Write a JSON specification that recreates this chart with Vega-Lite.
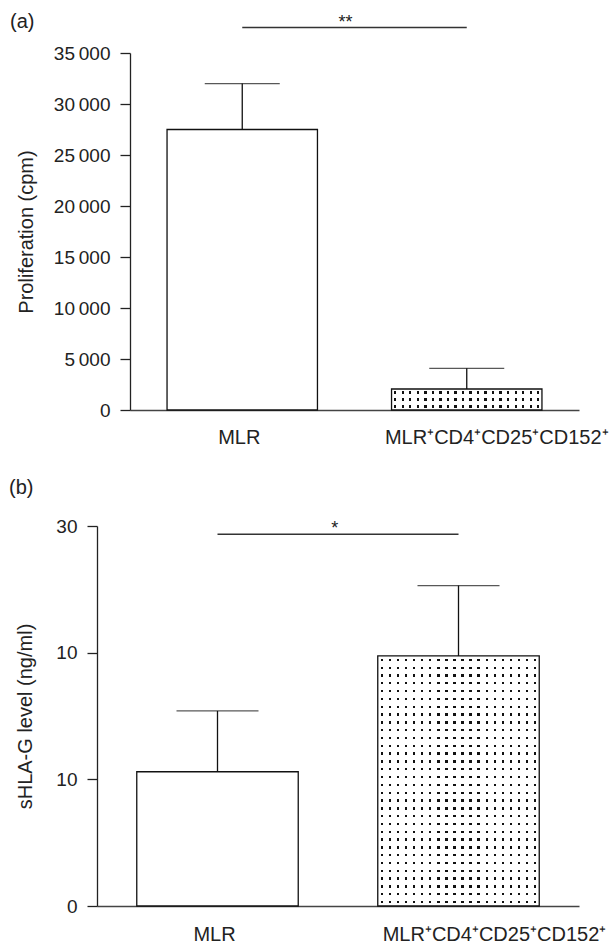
{
  "$schema": "https://vega.github.io/schema/vega-lite/v6.json",
  "padding": {"left": 9, "top": 11, "right": 0, "bottom": 0},
  "spacing": 31,
  "config": {
    "font": "Liberation Sans",
    "view": {"stroke": null},
    "axis": {"labelColor": "#222", "titleColor": "#222", "domainColor": "#222", "tickColor": "#222", "titleFontWeight": "normal", "labelFont": "Liberation Sans", "titleFont": "Liberation Sans", "grid": false},
    "title": {"fontWeight": "normal", "font": "Liberation Sans", "color": "#222"}
  },
  "vconcat": [
    {
      "title": {"text": "(a)", "anchor": "start", "frame": "bounds", "fontSize": 20, "offset": 0, "dx": -6, "dy": 18},
      "width": 482,
      "height": 357,
      "data": {"values": [
        {"group": "MLR", "mean": 27500, "upper": 32000, "sig_end": "MLR⁺CD4⁺CD25⁺CD152⁺", "sig_y": 37500, "sig_label": "**"},
        {"group": "MLR⁺CD4⁺CD25⁺CD152⁺", "mean": 2060, "upper": 4090, "sig_end": null, "sig_y": null, "sig_label": null}
      ]},
      "encoding": {
        "x": {"field": "group", "type": "nominal", "title": null,
          "scale": {"domain": ["MLR", "MLR⁺CD4⁺CD25⁺CD152⁺"], "paddingInner": 0, "paddingOuter": 0.0735, "align": 1},
          "axis": {"title": null, "ticks": false, "domainColor": "#444", "domainWidth": 1.3, "domainDash": [0, 33, 2000], "labelFontSize": 20, "labelPadding": 17, "labelLimit": 0, "labelAngle": 0,
            "labelOffset": {"condition": {"test": "datum.value == 'MLR'", "value": -3}, "value": 30}}},
        "y": {"field": "mean", "type": "quantitative", "title": "Proliferation (cpm)",
          "scale": {"domain": [0, 35000], "nice": false},
          "axis": {"title": "Proliferation (cpm)", "values": [0, 5000, 10000, 15000, 20000, 25000, 30000, 35000],
            "labelExpr": "datum.value >= 1000 ? floor(datum.value/1000) + '\u2009000' : datum.label",
            "offset": -33,
            "tickSize": 10, "tickWidth": 1.3, "domainWidth": 1.3, "labelFontSize": 19, "labelPadding": 10,
            "titleFontSize": 20, "titleX": -98, "titleBaseline": "alphabetic",
            "encode": {"ticks": {"update": {"x2": {"value": 10}}}}}}
      },
      "layer": [
        {"mark": {"type": "bar", "width": {"band": 0.67}},
         "encoding": {"fill": {"field": "group", "type": "nominal", "scale": {"domain": ["MLR", "MLR⁺CD4⁺CD25⁺CD152⁺"], "range": ["#ffffff", "#111111"]}, "legend": null}}},
        {"transform": [{"filter": "datum.group != 'MLR'"}],
         "mark": {"type": "bar", "width": {"band": 0.67}, "fill": {"gradient": "linear", "x1": 0, "y1": 0, "x2": 0, "y2": 1, "stops": [
           {"offset": 0.1167, "color": "#fff"}, {"offset": 0.1167, "color": "transparent"}, {"offset": 0.2167, "color": "transparent"}, {"offset": 0.2167, "color": "#fff"},
           {"offset": 0.45, "color": "#fff"}, {"offset": 0.45, "color": "transparent"}, {"offset": 0.55, "color": "transparent"}, {"offset": 0.55, "color": "#fff"},
           {"offset": 0.7833, "color": "#fff"}, {"offset": 0.7833, "color": "transparent"}, {"offset": 0.8833, "color": "transparent"}, {"offset": 0.8833, "color": "#fff"}
         ]}}},
        {"transform": [{"filter": "datum.group != 'MLR'"}],
         "mark": {"type": "bar", "width": {"band": 0.67}, "fill": {"gradient": "linear", "x1": 0, "y1": 0, "x2": 1, "y2": 0, "stops": [
           {"offset": 0.0175, "color": "#fff"}, {"offset": 0.0175, "color": "transparent"}, {"offset": 0.0325, "color": "transparent"}, {"offset": 0.0325, "color": "#fff"},
           {"offset": 0.0675, "color": "#fff"}, {"offset": 0.0675, "color": "transparent"}, {"offset": 0.0825, "color": "transparent"}, {"offset": 0.0825, "color": "#fff"},
           {"offset": 0.1175, "color": "#fff"}, {"offset": 0.1175, "color": "transparent"}, {"offset": 0.1325, "color": "transparent"}, {"offset": 0.1325, "color": "#fff"},
           {"offset": 0.1675, "color": "#fff"}, {"offset": 0.1675, "color": "transparent"}, {"offset": 0.1825, "color": "transparent"}, {"offset": 0.1825, "color": "#fff"},
           {"offset": 0.2175, "color": "#fff"}, {"offset": 0.2175, "color": "transparent"}, {"offset": 0.2325, "color": "transparent"}, {"offset": 0.2325, "color": "#fff"},
           {"offset": 0.2675, "color": "#fff"}, {"offset": 0.2675, "color": "transparent"}, {"offset": 0.2825, "color": "transparent"}, {"offset": 0.2825, "color": "#fff"},
           {"offset": 0.3175, "color": "#fff"}, {"offset": 0.3175, "color": "transparent"}, {"offset": 0.3325, "color": "transparent"}, {"offset": 0.3325, "color": "#fff"},
           {"offset": 0.3675, "color": "#fff"}, {"offset": 0.3675, "color": "transparent"}, {"offset": 0.3825, "color": "transparent"}, {"offset": 0.3825, "color": "#fff"},
           {"offset": 0.4175, "color": "#fff"}, {"offset": 0.4175, "color": "transparent"}, {"offset": 0.4325, "color": "transparent"}, {"offset": 0.4325, "color": "#fff"},
           {"offset": 0.4675, "color": "#fff"}, {"offset": 0.4675, "color": "transparent"}, {"offset": 0.4825, "color": "transparent"}, {"offset": 0.4825, "color": "#fff"},
           {"offset": 0.5175, "color": "#fff"}, {"offset": 0.5175, "color": "transparent"}, {"offset": 0.5325, "color": "transparent"}, {"offset": 0.5325, "color": "#fff"},
           {"offset": 0.5675, "color": "#fff"}, {"offset": 0.5675, "color": "transparent"}, {"offset": 0.5825, "color": "transparent"}, {"offset": 0.5825, "color": "#fff"},
           {"offset": 0.6175, "color": "#fff"}, {"offset": 0.6175, "color": "transparent"}, {"offset": 0.6325, "color": "transparent"}, {"offset": 0.6325, "color": "#fff"},
           {"offset": 0.6675, "color": "#fff"}, {"offset": 0.6675, "color": "transparent"}, {"offset": 0.6825, "color": "transparent"}, {"offset": 0.6825, "color": "#fff"},
           {"offset": 0.7175, "color": "#fff"}, {"offset": 0.7175, "color": "transparent"}, {"offset": 0.7325, "color": "transparent"}, {"offset": 0.7325, "color": "#fff"},
           {"offset": 0.7675, "color": "#fff"}, {"offset": 0.7675, "color": "transparent"}, {"offset": 0.7825, "color": "transparent"}, {"offset": 0.7825, "color": "#fff"},
           {"offset": 0.8175, "color": "#fff"}, {"offset": 0.8175, "color": "transparent"}, {"offset": 0.8325, "color": "transparent"}, {"offset": 0.8325, "color": "#fff"},
           {"offset": 0.8675, "color": "#fff"}, {"offset": 0.8675, "color": "transparent"}, {"offset": 0.8825, "color": "transparent"}, {"offset": 0.8825, "color": "#fff"},
           {"offset": 0.9175, "color": "#fff"}, {"offset": 0.9175, "color": "transparent"}, {"offset": 0.9325, "color": "transparent"}, {"offset": 0.9325, "color": "#fff"},
           {"offset": 0.9675, "color": "#fff"}, {"offset": 0.9675, "color": "transparent"}, {"offset": 0.9825, "color": "transparent"}, {"offset": 0.9825, "color": "#fff"}
         ]}}},
        {"mark": {"type": "bar", "width": {"band": 0.67}, "fill": "transparent", "stroke": "#111", "strokeWidth": 1.3}},
        {"mark": {"type": "rule", "color": "#111", "strokeWidth": 1.3},
         "encoding": {"y2": {"field": "upper"}}},
        {"mark": {"type": "tick", "orient": "horizontal", "size": 75, "thickness": 1.3, "color": "#111"},
         "encoding": {"y": {"field": "upper", "type": "quantitative", "title": "Proliferation (cpm)", "scale": {"domain": [0, 35000], "nice": false}}}},
        {"transform": [{"filter": "datum.group == 'MLR'"}],
         "mark": {"type": "rule", "color": "#333", "strokeWidth": 1.3},
         "encoding": {"x2": {"field": "sig_end"}, "y": {"field": "sig_y", "type": "quantitative", "title": "Proliferation (cpm)", "scale": {"domain": [0, 35000], "nice": false}}}},
        {"transform": [{"filter": "datum.group == 'MLR'"}],
         "mark": {"type": "text", "fontSize": 18, "baseline": "alphabetic", "align": "center", "color": "#222"},
         "encoding": {"x": {"field": "group", "type": "nominal", "title": null, "bandPosition": 0.96},
           "y": {"field": "sig_y", "type": "quantitative", "title": "Proliferation (cpm)", "scale": {"domain": [0, 35000], "nice": false}},
           "text": {"field": "sig_label"}}}
      ]
    },
    {
      "title": {"text": "(b)", "anchor": "start", "frame": "bounds", "fontSize": 20, "offset": 0, "dx": -6, "dy": -19},
      "width": 482,
      "height": 380,
      "data": {"values": [
        {"group": "MLR", "mean": 10.6, "upper": 15.4, "sig_end": "MLR⁺CD4⁺CD25⁺CD152⁺", "sig_y": 29.35, "sig_label": "*"},
        {"group": "MLR⁺CD4⁺CD25⁺CD152⁺", "mean": 19.74, "upper": 25.3, "sig_end": null, "sig_y": null, "sig_label": null}
      ]},
      "encoding": {
        "x": {"field": "group", "type": "nominal", "title": null,
          "scale": {"domain": ["MLR", "MLR⁺CD4⁺CD25⁺CD152⁺"], "paddingInner": 0, "paddingOuter": 0},
          "axis": {"title": null, "ticks": false, "domainColor": "#444", "domainWidth": 1.3, "labelFontSize": 20, "labelPadding": 18, "labelLimit": 0, "labelAngle": 0,
            "labelOffset": {"condition": {"test": "datum.value == 'MLR'", "value": -3}, "value": 36}}},
        "y": {"field": "mean", "type": "quantitative", "title": "sHLA-G level (ng/ml)",
          "scale": {"domain": [0, 30], "nice": false},
          "axis": {"title": "sHLA-G level (ng/ml)", "values": [0, 10, 20, 30],
            "labelExpr": "datum.value == 20 ? '10' : datum.label",
            "tickSize": 10, "tickWidth": 1.3, "domainWidth": 1.3, "labelFontSize": 19, "labelPadding": 10,
            "titleFontSize": 20, "titleX": -66, "titleBaseline": "alphabetic",
            "encode": {"ticks": {"update": {"x2": {"value": 10}}}}}}
      },
      "layer": [
        {"mark": {"type": "bar", "width": {"band": 0.67}},
         "encoding": {"fill": {"field": "group", "type": "nominal", "scale": {"domain": ["MLR", "MLR⁺CD4⁺CD25⁺CD152⁺"], "range": ["#ffffff", "#111111"]}, "legend": null}}},
        {"transform": [{"filter": "datum.group != 'MLR'"}],
         "mark": {"type": "bar", "width": {"band": 0.67}, "fill": {"gradient": "linear", "x1": 0, "y1": 0, "x2": 0, "y2": 1, "stops": [
           {"offset": 0.0109, "color": "#fff"}, {"offset": 0.0109, "color": "transparent"}, {"offset": 0.0203, "color": "transparent"}, {"offset": 0.0203, "color": "#fff"},
           {"offset": 0.0422, "color": "#fff"}, {"offset": 0.0422, "color": "transparent"}, {"offset": 0.0516, "color": "transparent"}, {"offset": 0.0516, "color": "#fff"},
           {"offset": 0.0734, "color": "#fff"}, {"offset": 0.0734, "color": "transparent"}, {"offset": 0.0828, "color": "transparent"}, {"offset": 0.0828, "color": "#fff"},
           {"offset": 0.1047, "color": "#fff"}, {"offset": 0.1047, "color": "transparent"}, {"offset": 0.1141, "color": "transparent"}, {"offset": 0.1141, "color": "#fff"},
           {"offset": 0.1359, "color": "#fff"}, {"offset": 0.1359, "color": "transparent"}, {"offset": 0.1453, "color": "transparent"}, {"offset": 0.1453, "color": "#fff"},
           {"offset": 0.1672, "color": "#fff"}, {"offset": 0.1672, "color": "transparent"}, {"offset": 0.1766, "color": "transparent"}, {"offset": 0.1766, "color": "#fff"},
           {"offset": 0.1984, "color": "#fff"}, {"offset": 0.1984, "color": "transparent"}, {"offset": 0.2078, "color": "transparent"}, {"offset": 0.2078, "color": "#fff"},
           {"offset": 0.2297, "color": "#fff"}, {"offset": 0.2297, "color": "transparent"}, {"offset": 0.2391, "color": "transparent"}, {"offset": 0.2391, "color": "#fff"},
           {"offset": 0.2609, "color": "#fff"}, {"offset": 0.2609, "color": "transparent"}, {"offset": 0.2703, "color": "transparent"}, {"offset": 0.2703, "color": "#fff"},
           {"offset": 0.2922, "color": "#fff"}, {"offset": 0.2922, "color": "transparent"}, {"offset": 0.3016, "color": "transparent"}, {"offset": 0.3016, "color": "#fff"},
           {"offset": 0.3234, "color": "#fff"}, {"offset": 0.3234, "color": "transparent"}, {"offset": 0.3328, "color": "transparent"}, {"offset": 0.3328, "color": "#fff"},
           {"offset": 0.3547, "color": "#fff"}, {"offset": 0.3547, "color": "transparent"}, {"offset": 0.3641, "color": "transparent"}, {"offset": 0.3641, "color": "#fff"},
           {"offset": 0.3859, "color": "#fff"}, {"offset": 0.3859, "color": "transparent"}, {"offset": 0.3953, "color": "transparent"}, {"offset": 0.3953, "color": "#fff"},
           {"offset": 0.4172, "color": "#fff"}, {"offset": 0.4172, "color": "transparent"}, {"offset": 0.4266, "color": "transparent"}, {"offset": 0.4266, "color": "#fff"},
           {"offset": 0.4484, "color": "#fff"}, {"offset": 0.4484, "color": "transparent"}, {"offset": 0.4578, "color": "transparent"}, {"offset": 0.4578, "color": "#fff"},
           {"offset": 0.4797, "color": "#fff"}, {"offset": 0.4797, "color": "transparent"}, {"offset": 0.4891, "color": "transparent"}, {"offset": 0.4891, "color": "#fff"},
           {"offset": 0.5109, "color": "#fff"}, {"offset": 0.5109, "color": "transparent"}, {"offset": 0.5203, "color": "transparent"}, {"offset": 0.5203, "color": "#fff"},
           {"offset": 0.5422, "color": "#fff"}, {"offset": 0.5422, "color": "transparent"}, {"offset": 0.5516, "color": "transparent"}, {"offset": 0.5516, "color": "#fff"},
           {"offset": 0.5734, "color": "#fff"}, {"offset": 0.5734, "color": "transparent"}, {"offset": 0.5828, "color": "transparent"}, {"offset": 0.5828, "color": "#fff"},
           {"offset": 0.6047, "color": "#fff"}, {"offset": 0.6047, "color": "transparent"}, {"offset": 0.6141, "color": "transparent"}, {"offset": 0.6141, "color": "#fff"},
           {"offset": 0.6359, "color": "#fff"}, {"offset": 0.6359, "color": "transparent"}, {"offset": 0.6453, "color": "transparent"}, {"offset": 0.6453, "color": "#fff"},
           {"offset": 0.6672, "color": "#fff"}, {"offset": 0.6672, "color": "transparent"}, {"offset": 0.6766, "color": "transparent"}, {"offset": 0.6766, "color": "#fff"},
           {"offset": 0.6984, "color": "#fff"}, {"offset": 0.6984, "color": "transparent"}, {"offset": 0.7078, "color": "transparent"}, {"offset": 0.7078, "color": "#fff"},
           {"offset": 0.7297, "color": "#fff"}, {"offset": 0.7297, "color": "transparent"}, {"offset": 0.7391, "color": "transparent"}, {"offset": 0.7391, "color": "#fff"},
           {"offset": 0.7609, "color": "#fff"}, {"offset": 0.7609, "color": "transparent"}, {"offset": 0.7703, "color": "transparent"}, {"offset": 0.7703, "color": "#fff"},
           {"offset": 0.7922, "color": "#fff"}, {"offset": 0.7922, "color": "transparent"}, {"offset": 0.8016, "color": "transparent"}, {"offset": 0.8016, "color": "#fff"},
           {"offset": 0.8234, "color": "#fff"}, {"offset": 0.8234, "color": "transparent"}, {"offset": 0.8328, "color": "transparent"}, {"offset": 0.8328, "color": "#fff"},
           {"offset": 0.8547, "color": "#fff"}, {"offset": 0.8547, "color": "transparent"}, {"offset": 0.8641, "color": "transparent"}, {"offset": 0.8641, "color": "#fff"},
           {"offset": 0.8859, "color": "#fff"}, {"offset": 0.8859, "color": "transparent"}, {"offset": 0.8953, "color": "transparent"}, {"offset": 0.8953, "color": "#fff"},
           {"offset": 0.9172, "color": "#fff"}, {"offset": 0.9172, "color": "transparent"}, {"offset": 0.9266, "color": "transparent"}, {"offset": 0.9266, "color": "#fff"},
           {"offset": 0.9484, "color": "#fff"}, {"offset": 0.9484, "color": "transparent"}, {"offset": 0.9578, "color": "transparent"}, {"offset": 0.9578, "color": "#fff"},
           {"offset": 0.9797, "color": "#fff"}, {"offset": 0.9797, "color": "transparent"}, {"offset": 0.9891, "color": "transparent"}, {"offset": 0.9891, "color": "#fff"}
         ]}}},
        {"transform": [{"filter": "datum.group != 'MLR'"}],
         "mark": {"type": "bar", "width": {"band": 0.67}, "fill": {"gradient": "linear", "x1": 0, "y1": 0, "x2": 1, "y2": 0, "stops": [
           {"offset": 0.0175, "color": "#fff"}, {"offset": 0.0175, "color": "transparent"}, {"offset": 0.0325, "color": "transparent"}, {"offset": 0.0325, "color": "#fff"},
           {"offset": 0.0675, "color": "#fff"}, {"offset": 0.0675, "color": "transparent"}, {"offset": 0.0825, "color": "transparent"}, {"offset": 0.0825, "color": "#fff"},
           {"offset": 0.1175, "color": "#fff"}, {"offset": 0.1175, "color": "transparent"}, {"offset": 0.1325, "color": "transparent"}, {"offset": 0.1325, "color": "#fff"},
           {"offset": 0.1675, "color": "#fff"}, {"offset": 0.1675, "color": "transparent"}, {"offset": 0.1825, "color": "transparent"}, {"offset": 0.1825, "color": "#fff"},
           {"offset": 0.2175, "color": "#fff"}, {"offset": 0.2175, "color": "transparent"}, {"offset": 0.2325, "color": "transparent"}, {"offset": 0.2325, "color": "#fff"},
           {"offset": 0.2675, "color": "#fff"}, {"offset": 0.2675, "color": "transparent"}, {"offset": 0.2825, "color": "transparent"}, {"offset": 0.2825, "color": "#fff"},
           {"offset": 0.3175, "color": "#fff"}, {"offset": 0.3175, "color": "transparent"}, {"offset": 0.3325, "color": "transparent"}, {"offset": 0.3325, "color": "#fff"},
           {"offset": 0.3675, "color": "#fff"}, {"offset": 0.3675, "color": "transparent"}, {"offset": 0.3825, "color": "transparent"}, {"offset": 0.3825, "color": "#fff"},
           {"offset": 0.4175, "color": "#fff"}, {"offset": 0.4175, "color": "transparent"}, {"offset": 0.4325, "color": "transparent"}, {"offset": 0.4325, "color": "#fff"},
           {"offset": 0.4675, "color": "#fff"}, {"offset": 0.4675, "color": "transparent"}, {"offset": 0.4825, "color": "transparent"}, {"offset": 0.4825, "color": "#fff"},
           {"offset": 0.5175, "color": "#fff"}, {"offset": 0.5175, "color": "transparent"}, {"offset": 0.5325, "color": "transparent"}, {"offset": 0.5325, "color": "#fff"},
           {"offset": 0.5675, "color": "#fff"}, {"offset": 0.5675, "color": "transparent"}, {"offset": 0.5825, "color": "transparent"}, {"offset": 0.5825, "color": "#fff"},
           {"offset": 0.6175, "color": "#fff"}, {"offset": 0.6175, "color": "transparent"}, {"offset": 0.6325, "color": "transparent"}, {"offset": 0.6325, "color": "#fff"},
           {"offset": 0.6675, "color": "#fff"}, {"offset": 0.6675, "color": "transparent"}, {"offset": 0.6825, "color": "transparent"}, {"offset": 0.6825, "color": "#fff"},
           {"offset": 0.7175, "color": "#fff"}, {"offset": 0.7175, "color": "transparent"}, {"offset": 0.7325, "color": "transparent"}, {"offset": 0.7325, "color": "#fff"},
           {"offset": 0.7675, "color": "#fff"}, {"offset": 0.7675, "color": "transparent"}, {"offset": 0.7825, "color": "transparent"}, {"offset": 0.7825, "color": "#fff"},
           {"offset": 0.8175, "color": "#fff"}, {"offset": 0.8175, "color": "transparent"}, {"offset": 0.8325, "color": "transparent"}, {"offset": 0.8325, "color": "#fff"},
           {"offset": 0.8675, "color": "#fff"}, {"offset": 0.8675, "color": "transparent"}, {"offset": 0.8825, "color": "transparent"}, {"offset": 0.8825, "color": "#fff"},
           {"offset": 0.9175, "color": "#fff"}, {"offset": 0.9175, "color": "transparent"}, {"offset": 0.9325, "color": "transparent"}, {"offset": 0.9325, "color": "#fff"},
           {"offset": 0.9675, "color": "#fff"}, {"offset": 0.9675, "color": "transparent"}, {"offset": 0.9825, "color": "transparent"}, {"offset": 0.9825, "color": "#fff"}
         ]}}},
        {"mark": {"type": "bar", "width": {"band": 0.67}, "fill": "transparent", "stroke": "#111", "strokeWidth": 1.3}},
        {"mark": {"type": "rule", "color": "#111", "strokeWidth": 1.3},
         "encoding": {"y2": {"field": "upper"}}},
        {"mark": {"type": "tick", "orient": "horizontal", "size": 82, "thickness": 1.3, "color": "#111"},
         "encoding": {"y": {"field": "upper", "type": "quantitative", "title": "sHLA-G level (ng/ml)", "scale": {"domain": [0, 30], "nice": false}}}},
        {"transform": [{"filter": "datum.group == 'MLR'"}],
         "mark": {"type": "rule", "color": "#333", "strokeWidth": 1.3},
         "encoding": {"x2": {"field": "sig_end"}, "y": {"field": "sig_y", "type": "quantitative", "title": "sHLA-G level (ng/ml)", "scale": {"domain": [0, 30], "nice": false}}}},
        {"transform": [{"filter": "datum.group == 'MLR'"}],
         "mark": {"type": "text", "fontSize": 18, "baseline": "alphabetic", "align": "center", "color": "#222"},
         "encoding": {"x": {"field": "group", "type": "nominal", "title": null, "bandPosition": 0.987},
           "y": {"field": "sig_y", "type": "quantitative", "title": "sHLA-G level (ng/ml)", "scale": {"domain": [0, 30], "nice": false}},
           "text": {"field": "sig_label"}}}
      ]
    }
  ]
}
